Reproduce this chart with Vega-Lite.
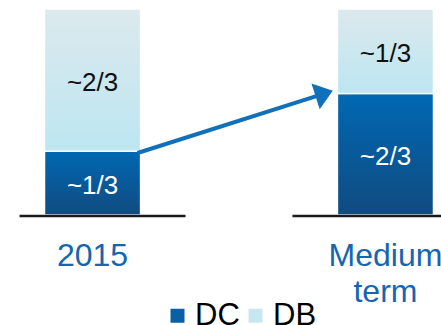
{
  "$schema": "https://vega.github.io/schema/vega-lite/v6.json",
  "width": 441,
  "height": 215,
  "padding": 0,
  "autosize": {"type": "pad"},
  "config": {"view": {"stroke": null}, "font": "Liberation Sans"},
  "datasets": {
    "shares": [
      {"period": "2015", "type": "DC", "value": 0.31, "label": "~1/3", "ord": 1},
      {"period": "2015", "type": "DB", "value": 0.69, "label": "~2/3", "ord": 2},
      {"period": "Medium term", "type": "DC", "value": 0.59, "label": "~2/3", "ord": 1},
      {"period": "Medium term", "type": "DB", "value": 0.41, "label": "~1/3", "ord": 2}
    ],
    "arrow": [
      {"from": "2015", "to": "Medium term", "start": 0.301, "end": 0.603}
    ]
  },
  "resolve": {"scale": {"x": "shared", "y": "shared"}},
  "layer": [
    {
      "data": {"name": "shares"},
      "transform": [
        {"stack": "value", "groupby": ["period"], "sort": [{"field": "ord"}], "as": ["v0", "v1"]},
        {"calculate": "(datum.v0 + datum.v1) / 2", "as": "mid"}
      ],
      "layer": [
        {
          "mark": {"type": "bar"},
          "encoding": {
            "x": {
              "field": "period", "type": "nominal", "sort": ["2015", "Medium term"],
              "scale": {"range": [44.5, 433.5], "paddingInner": 0.672, "paddingOuter": 0},
              "axis": {
                "title": null, "domain": false, "ticks": false, "tickSize": 0,
                "labelAngle": 0, "labelFontSize": 32, "labelColor": "#1565B0",
                "labelBaseline": "top", "labelPadding": 25, "labelLineHeight": 36,
                "labelFont": "Liberation Sans",
                "labelExpr": "datum.label == 'Medium term' ? ['Medium', 'term'] : datum.label"
              }
            },
            "y": {"field": "v0", "type": "quantitative", "scale": {"domain": [0, 1.0437], "nice": false, "zero": true}, "axis": null},
            "y2": {"field": "v1"},
            "color": {
              "field": "type", "type": "nominal",
              "scale": {"domain": ["DC", "DB"], "range": ["#0B5FA5", "#C6E7EF"]},
              "legend": {
                "orient": "none", "legendX": 162, "legendY": 300, "direction": "horizontal",
                "title": null, "padding": 0, "symbolType": "M-1,-1H1V1H-1Z", "symbolSize": 196,
                "symbolStrokeWidth": 0, "labelFontSize": 31, "labelFont": "Liberation Sans",
                "labelColor": "#000000", "labelOffset": 2, "columnPadding": 0
              }
            }
          }
        },
        {
          "transform": [{"filter": "datum.type === 'DC'"}],
          "mark": {
            "type": "bar", "stroke": "#ffffff", "strokeWidth": 1.5,
            "fill": {"gradient": "linear", "x1": 0, "y1": 0, "x2": 0, "y2": 1,
              "stops": [{"offset": 0, "color": "#0068B3"}, {"offset": 1, "color": "#114B80"}]}
          },
          "encoding": {
            "x": {"field": "period", "type": "nominal", "sort": ["2015", "Medium term"]},
            "y": {"field": "v0", "type": "quantitative"},
            "y2": {"field": "v1"}
          }
        },
        {
          "transform": [{"filter": "datum.type === 'DB'"}],
          "mark": {
            "type": "bar", "stroke": "#ffffff", "strokeWidth": 1.5,
            "fill": {"gradient": "linear", "x1": 0, "y1": 0, "x2": 0, "y2": 1,
              "stops": [{"offset": 0, "color": "#DCE9ED"}, {"offset": 1, "color": "#BCE6F1"}]}
          },
          "encoding": {
            "x": {"field": "period", "type": "nominal", "sort": ["2015", "Medium term"]},
            "y": {"field": "v0", "type": "quantitative"},
            "y2": {"field": "v1"}
          }
        },
        {
          "mark": {"type": "text", "fontSize": 26, "font": "Liberation Sans", "baseline": "middle", "align": "center", "dy": 3},
          "encoding": {
            "x": {"field": "period", "type": "nominal", "sort": ["2015", "Medium term"]},
            "y": {"field": "mid", "type": "quantitative"},
            "text": {"field": "label"},
            "color": {"condition": {"test": "datum.type === 'DC'", "value": "#ffffff"}, "value": "#111111"}
          }
        }
      ]
    },
    {
      "data": {"values": [{"period": "2015"}]},
      "mark": {"type": "rule", "color": "#1a1a1a", "strokeWidth": 2.5, "xOffset": -73, "x2Offset": 93, "yOffset": 1},
      "encoding": {
        "x": {"field": "period", "type": "nominal"},
        "x2": {"field": "period"},
        "y": {"datum": 0}
      }
    },
    {
      "data": {"values": [{"period": "Medium term"}]},
      "mark": {"type": "rule", "color": "#1a1a1a", "strokeWidth": 2.5, "xOffset": -93, "x2Offset": 73, "yOffset": 1},
      "encoding": {
        "x": {"field": "period", "type": "nominal"},
        "x2": {"field": "period"},
        "y": {"datum": 0}
      }
    },
    {
      "data": {"name": "arrow"},
      "mark": {"type": "rule", "color": "#1070B9", "strokeWidth": 4, "xOffset": 45, "x2Offset": -62, "y2Offset": 3.1},
      "encoding": {
        "x": {"field": "from", "type": "nominal"},
        "x2": {"field": "to"},
        "y": {"field": "start", "type": "quantitative"},
        "y2": {"field": "end"}
      }
    },
    {
      "data": {"name": "arrow"},
      "mark": {"type": "point", "shape": "M0,0 L-1,-0.75 L-1,0.75 Z", "size": 1300, "filled": true, "opacity": 1, "color": "#1070B9", "strokeWidth": 0, "angle": 342.3, "xOffset": -52.7},
      "encoding": {
        "x": {"field": "to", "type": "nominal"},
        "y": {"field": "end", "type": "quantitative"}
      }
    }
  ]
}
